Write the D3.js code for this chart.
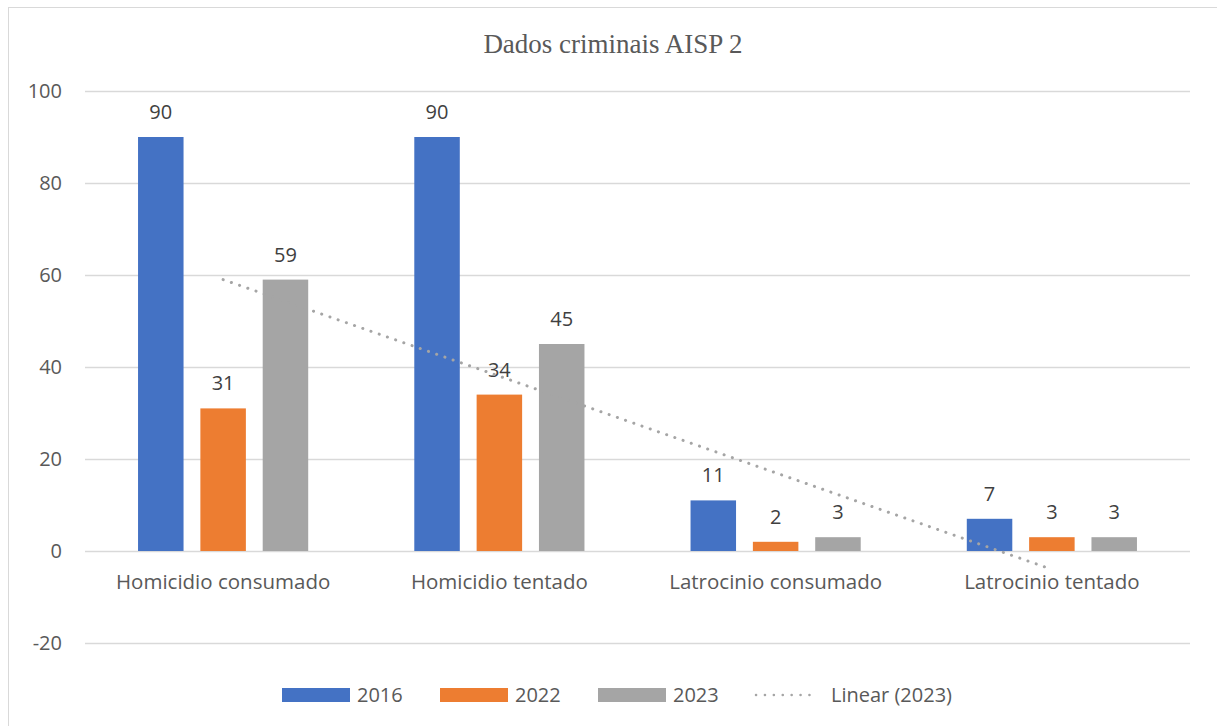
<!DOCTYPE html>
<html>
<head>
<meta charset="utf-8">
<script src="https://cdn.jsdelivr.net/npm/d3@7"></script>
<style>
  body { margin: 0; background: #fff; }
  svg { display: block; }
</style>
</head>
<body>
<svg width="1217" height="726"></svg>
<script>
const categories = ["Homicidio consumado", "Homicidio tentado", "Latrocinio consumado", "Latrocinio tentado"];
const years = ["2016", "2022", "2023"];
const values2016 = [90, 90, 11, 7];
const values2022 = [31, 34, 2, 3];
const values2023 = [59, 45, 3, 3];
const yTicks = [-20, 0, 20, 40, 60, 80, 100];
const colors = ["#4472C4", "#ED7D31", "#A5A5A5"];

const series = [values2016, values2022, values2023];

const svg = d3.select("svg");
const margin = { left: 85, right: 27 };
const width = 1217;
const font = "'Open Sans', sans-serif";

// chart border
svg.append("rect")
  .attr("x", 8.5).attr("y", 7.5)
  .attr("width", 1215).attr("height", 730)
  .attr("fill", "none").attr("stroke", "#d9d9d9");

const x0 = d3.scaleBand()
  .domain(categories)
  .range([margin.left, width - margin.right])
  .paddingInner(0.384)
  .paddingOuter(0.192);

const x1 = d3.scaleBand()
  .domain(years)
  .range([0, x0.bandwidth()])
  .paddingInner(0.27);

const y = d3.scaleLinear()
  .domain([-20, 100])
  .range([643, 91]);

// gridlines
svg.append("g")
  .selectAll("line")
  .data(yTicks)
  .join("line")
  .attr("x1", margin.left)
  .attr("x2", width - margin.right)
  .attr("y1", d => Math.round(y(d)) + 0.5)
  .attr("y2", d => Math.round(y(d)) + 0.5)
  .attr("stroke", "#d9d9d9")
  .attr("stroke-width", 1.5);

// y tick labels
svg.append("g")
  .selectAll("text")
  .data(yTicks)
  .join("text")
  .attr("x", 62)
  .attr("y", d => y(d))
  .attr("dy", "0.35em")
  .attr("text-anchor", "end")
  .attr("font-family", font)
  .attr("font-size", 20)
  .attr("fill", "#595959")
  .text(d => d);

// bars
const groups = svg.append("g")
  .selectAll("g")
  .data(categories)
  .join("g")
  .attr("transform", d => `translate(${x0(d)},0)`);

groups.selectAll("rect")
  .data((d, i) => years.map((yr, j) => ({ yr, v: series[j][i], c: colors[j] })))
  .join("rect")
  .attr("x", d => x1(d.yr))
  .attr("width", x1.bandwidth())
  .attr("y", d => y(d.v))
  .attr("height", d => y(0) - y(d.v))
  .attr("fill", d => d.c);

groups.selectAll("text")
  .data((d, i) => years.map((yr, j) => ({ yr, v: series[j][i] })))
  .join("text")
  .attr("x", d => x1(d.yr) + x1.bandwidth() / 2)
  .attr("y", d => y(d.v) - 18)
  .attr("text-anchor", "middle")
  .attr("font-family", font)
  .attr("font-size", 20)
  .attr("fill", "#404040")
  .text(d => d.v);

// category labels
svg.append("g")
  .selectAll("text")
  .data(categories)
  .join("text")
  .attr("x", d => x0(d) + x0.bandwidth() / 2)
  .attr("y", 589)
  .attr("text-anchor", "middle")
  .attr("font-family", font)
  .attr("font-size", 20.5)
  .attr("fill", "#595959")
  .text(d => d);

// linear trendline for 2023
const n = values2023.length;
const xs = d3.range(1, n + 1);
const mx = d3.mean(xs), my = d3.mean(values2023);
const slope = d3.sum(xs, (xv, i) => (xv - mx) * (values2023[i] - my)) / d3.sum(xs, xv => (xv - mx) ** 2);
const intercept = my - slope * mx;
const trend = categories.map((c, i) => ({ c, v: intercept + slope * (i + 1) }));
const first = trend[0], last = trend[n - 1];

svg.append("line")
  .attr("x1", x0(first.c) + x0.bandwidth() / 2)
  .attr("y1", y(first.v))
  .attr("x2", x0(last.c) + x0.bandwidth() / 2)
  .attr("y2", y(last.v))
  .attr("stroke", "#A5A5A5")
  .attr("stroke-width", 3)
  .attr("stroke-linecap", "round")
  .attr("stroke-dasharray", "0.1 8.6");

// title
svg.append("text")
  .attr("x", 613)
  .attr("y", 53)
  .attr("text-anchor", "middle")
  .attr("font-family", "'Liberation Serif', 'Times New Roman', serif")
  .attr("font-size", 27)
  .attr("fill", "#595959")
  .text("Dados criminais AISP 2");

// legend
const legendItems = [
  { label: "2016", color: colors[0], x: 282, type: "rect" },
  { label: "2022", color: colors[1], x: 440, type: "rect" },
  { label: "2023", color: colors[2], x: 598, type: "rect" },
  { label: "Linear (2023)", color: colors[2], x: 754, type: "line" }
];
const legend = svg.append("g");
legendItems.forEach(item => {
  if (item.type === "rect") {
    legend.append("rect")
      .attr("x", item.x).attr("y", 688)
      .attr("width", 68).attr("height", 14)
      .attr("fill", item.color);
  } else {
    legend.append("line")
      .attr("x1", item.x + 2).attr("x2", item.x + 64)
      .attr("y1", 695).attr("y2", 695)
      .attr("stroke", item.color)
      .attr("stroke-width", 2.5)
      .attr("stroke-linecap", "round")
      .attr("stroke-dasharray", "0.1 8.8");
  }
  legend.append("text")
    .attr("x", item.x + (item.type === "rect" ? 75 : 77))
    .attr("y", 702)
    .attr("font-family", font)
    .attr("font-size", 20)
    .attr("fill", "#595959")
    .text(item.label);
});
</script>
</body>
</html>
